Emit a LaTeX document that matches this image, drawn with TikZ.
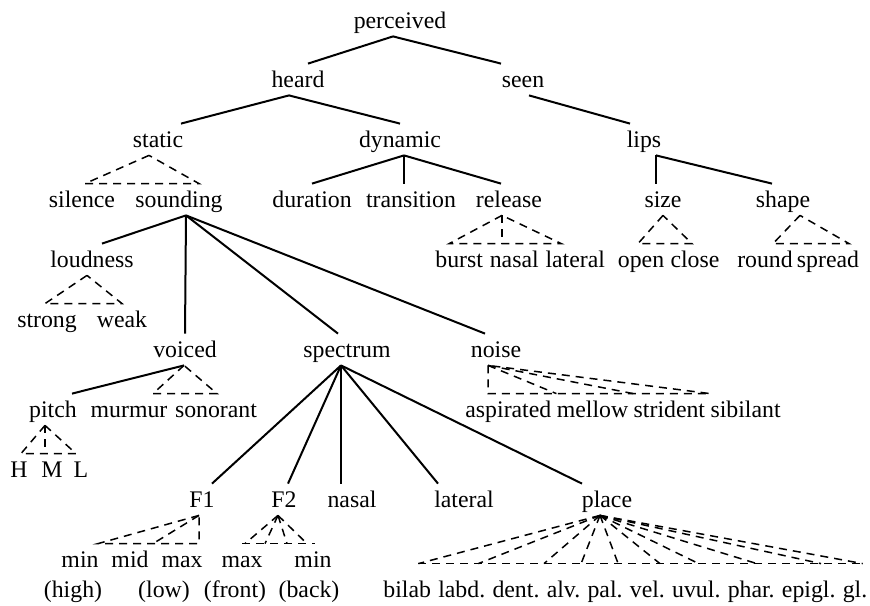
\documentclass[tikz,border=0pt]{standalone}
\usepackage{fontspec}
\setmainfont{Liberation Serif}
\usepackage{tikz}
\usetikzlibrary{positioning}

\begin{document}
\begin{tikzpicture}[
    x=0.5pt, y=-0.5pt,
    node distance=3pt,
    word/.style={anchor=base, inner xsep=0pt, inner ysep=2pt, text height=9.5pt, text depth=2pt, font=\fontsize{11.9}{14}\selectfont},
    branch/.style={line width=1pt},
    roof/.style={line width=0.75pt, dash pattern=on 4pt off 3pt}
]
    \useasboundingbox (0,0) rectangle (870,605);

    % Level 1
    \node [word] (perceived) at (400,28) {perceived};
    \node [word] (heard) at (298,87) {heard};
    \node [word] (seen) at (523,87) {seen};
    \draw [branch] ([xshift=-3.5pt]perceived.south) -- ([xshift=5pt]heard.north);
    \draw [branch] ([xshift=-3.5pt]perceived.south) -- ([xshift=-11pt]seen.north);

    % Level 2
    \node [word] (static) at (158,147) {static};
    \node [word] (dynamic) at (400,147) {dynamic};
    \node [word] (lips) at (644,147) {lips};
    \draw [branch] ([xshift=-4.5pt]heard.south) -- ([xshift=11.5pt]static.north);
    \draw [branch] ([xshift=-4.5pt]heard.south) -- (dynamic.north);
    \draw [branch] ([xshift=3pt]seen.south) -- ([xshift=-7pt]lips.north);

    % Level 3
    \node [word] (silence) at (82,207) {silence};
    \node [word] (sounding) at (179,207) {sounding};
    \node [word] (duration) at (312,207) {duration};
    \node [word] (transition) at (411,207) {transition};
    \node [word] (release) at (509,207) {release};
    \node [word] (size) at (663,207) {size};
    \node [word] (shape) at (783,207) {shape};
    \draw [roof] ([xshift=-4.5pt]static.south) -- ([xshift=1.5pt]silence.north) -- ([xshift=10pt]sounding.north) -- cycle;
    \draw [branch] ([xshift=2pt]dynamic.south) -- (duration.north);
    \draw [branch] ([xshift=2pt]dynamic.south) -- ([xshift=-3.5pt]transition.north);
    \draw [branch] ([xshift=2pt]dynamic.south) -- ([xshift=-4pt]release.north);
    \draw [branch] ([xshift=6pt]lips.south) -- ([xshift=-3.5pt]size.north);
    \draw [branch] ([xshift=6pt]lips.south) -- ([xshift=-5.5pt]shape.north);

    % Level 4
    \node [word] (loudness) at (92,267) {loudness};
    \node [word, anchor=base west] (burst) at (435,267) {burst};
    \node [word, base right=of burst] (rnasal) {nasal};
    \node [word, base right=of rnasal] (rlateral) {lateral};
    \node [word] (open) at (641,267) {open};
    \node [word] (close) at (695,267) {close};
    \node [word] (round) at (765,267) {round};
    \node [word] (spread) at (828,267) {spread};
    \draw [branch] ([xshift=3.5pt]sounding.south) -- ([xshift=5pt]loudness.north);
    \draw [roof] ([xshift=-3.5pt]release.south) -- ([xshift=-5pt]burst.north) -- ([xshift=-7pt]rlateral.north) -- cycle;
    \draw [roof] ([xshift=-3.5pt]release.south) -- ([xshift=-3.5pt]release.south |- rnasal.north);
    \draw [roof] (size.south) -- ([xshift=-1.5pt]open.north) -- ([xshift=-1.5pt]close.north) -- cycle;
    \draw [roof] ([xshift=8.5pt]shape.south) -- ([xshift=4pt]round.north) -- ([xshift=10.5pt]spread.north) -- cycle;

    % Level 5
    \node [word] (strong) at (47,327) {strong};
    \node [word] (weak) at (122,327) {weak};
    \draw [roof] ([xshift=-2.5pt]loudness.south) -- ([xshift=-1pt]strong.north) -- (weak.north) -- cycle;

    \node [word] (voiced) at (185,357) {voiced};
    \node [word] (spectrum) at (347,357) {spectrum};
    \node [word] (noise) at (496,357) {noise};
    \draw [branch] ([xshift=3.5pt]sounding.south) -- (voiced.north);
    \draw [branch] ([xshift=3.5pt]sounding.south) -- ([xshift=-4.5pt]spectrum.north);
    \draw [branch] ([xshift=3.5pt]sounding.south) -- ([xshift=-5.5pt]noise.north);

    % Level 6
    \node [word] (pitch) at (53,417) {pitch};
    \node [word] (murmur) at (129,417) {murmur};
    \node [word] (sonorant) at (216,417) {sonorant};
    \node [word, anchor=base west] (aspirated) at (465,417) {aspirated};
    \node [word, base right=2.35pt of aspirated] (mellow) {mellow};
    \node [word, base right=2.35pt of mellow] (strident) {strident};
    \node [word, base right=2.35pt of strident] (sibilant) {sibilant};
    \draw [branch] ([xshift=-0.5pt]voiced.south) -- ([xshift=9.5pt]pitch.north);
    \draw [roof] ([xshift=-0.5pt]voiced.south) -- ([xshift=12pt]murmur.north) -- ([xshift=0.5pt]sonorant.north) -- cycle;
    \draw [roof] ([xshift=-4pt]noise.south) -- ([xshift=-4pt]noise.south |- aspirated.north) -- (sibilant.north west) -- cycle;
    \draw [roof] ([xshift=-4pt]noise.south) -- (mellow.north west);
    \draw [roof] ([xshift=-4pt]noise.south) -- (strident.north west);

    % Level 7
    \node [word] (H) at (19,477) {H};
    \node [word] (M) at (52,477) {M};
    \node [word] (L) at (81,477) {L};
    \draw [roof] ([xshift=-4pt]pitch.south) -- ([xshift=1pt]H.north) -- ([xshift=-2.5pt]L.north) -- cycle;
    \draw [roof] ([xshift=-4pt]pitch.south) -- ([xshift=-4pt]pitch.south |- M.north);

    \node [word] (F1) at (202,507) {F1};
    \node [word] (F2) at (284,507) {F2};
    \node [word] (snasal) at (352,507) {nasal};
    \node [word] (slateral) at (464,507) {lateral};
    \node [word] (place) at (607,507) {place};
    \draw [branch] ([xshift=-3pt]spectrum.south) -- ([xshift=5pt]F1.north);
    \draw [branch] ([xshift=-3pt]spectrum.south) -- ([xshift=2pt]F2.north);
    \draw [branch] ([xshift=-3pt]spectrum.south) -- ([xshift=-3pt]spectrum.south |- snasal.north);
    \draw [branch] ([xshift=-3pt]spectrum.south) -- ([xshift=-13pt]slateral.north);
    \draw [branch] ([xshift=-3pt]spectrum.south) -- ([xshift=-12.5pt]place.north);

    % Level 8
    \node [word] (f1min) at (80,567) {min};
    \node [word] (f1mid) at (130,567) {mid};
    \node [word] (f1max) at (182,567) {max};
    \node [word] (f2max) at (242,567) {max};
    \node [word] (f2min) at (313,567) {min};
    \draw [roof] ([xshift=-1.5pt]F1.south) -- ([xshift=9pt]f1min.north) -- ([xshift=-1.5pt]F1.south |- f1max.north) -- cycle;
    \draw [roof] ([xshift=-1.5pt]F1.south) -- ([xshift=11.5pt]f1mid.north);
    \draw [roof] (f2max.north) -- ([xshift=1pt]f2min.north);
    \foreach \lab/\dx in {f2max/1.5, f2max/11.5, f2min/-13, f2min/-3}
        \draw [roof] ([xshift=-3pt]F2.south) -- ([xshift=\dx pt]\lab.north);

    % Glosses and places
    \node [word] (high) at (73,597) {(high)};
    \node [word] (low) at (164,597) {(low)};
    \node [word] (front) at (235,597) {(front)};
    \node [word] (back) at (309,597) {(back)};

    \node [word, anchor=base west] (bilab) at (383,597) {bilab};
    \node [word, base right=3.25pt of bilab] (labd) {labd.};
    \node [word, base right=3.25pt of labd] (dent) {dent.};
    \node [word, base right=3.25pt of dent] (alv) {alv.};
    \node [word, base right=3.25pt of alv] (pal) {pal.};
    \node [word, base right=3.25pt of pal] (vel) {vel.};
    \node [word, base right=3.25pt of vel] (uvul) {uvul.};
    \node [word, base right=3.25pt of uvul] (phar) {phar.};
    \node [word, base right=3.25pt of phar] (epigl) {epigl.};
    \node [word, base right=3.25pt of epigl] (gl) {gl.};
    \draw [roof] ([xshift=5.6pt, yshift=5pt]bilab.north) -- ([xshift=3.85pt, yshift=5pt]gl.north);
    \foreach \lab/\dx in {bilab/5.6, labd/8.25, dent/14, alv/8.8, pal/6.55, vel/6.3, uvul/1.2, phar/2.85, epigl/6.15, gl/3.85}
        \draw [roof] ([xshift=-3.5pt]place.south) -- ([xshift=\dx pt, yshift=5pt]\lab.north);
\end{tikzpicture}
\end{document}
